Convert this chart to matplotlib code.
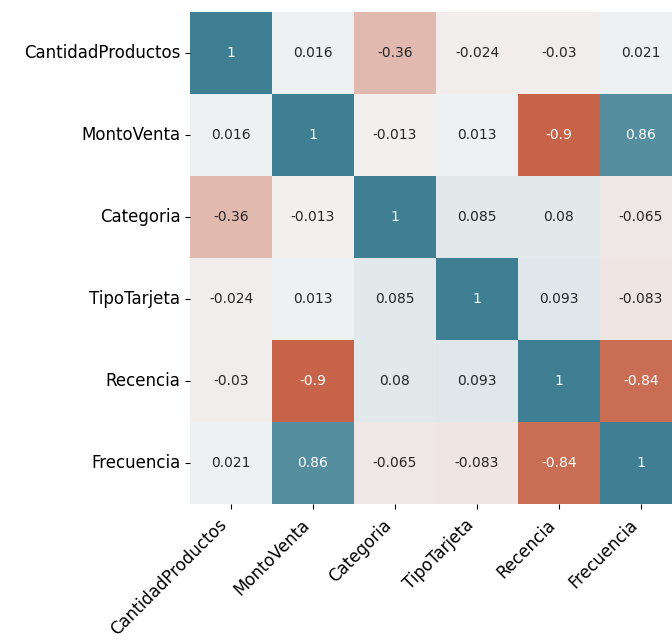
import numpy as np
import pandas as pd
import seaborn as sns
import matplotlib
matplotlib.use("Agg")
import matplotlib.pyplot as plt

# Variables del dataset de ventas
variables = ["CantidadProductos", "MontoVenta", "Categoria",
             "TipoTarjeta", "Recencia", "Frecuencia"]

# Matriz de correlación (fila por fila)
corr_cantidad = [1, 0.016, -0.36, -0.024, -0.03, 0.021]
corr_monto = [0.016, 1, -0.013, 0.013, -0.9, 0.86]
corr_categoria = [-0.36, -0.013, 1, 0.085, 0.08, -0.065]
corr_tarjeta = [-0.024, 0.013, 0.085, 1, 0.093, -0.083]
corr_recencia = [-0.03, -0.9, 0.08, 0.093, 1, -0.84]
corr_frecuencia = [0.021, 0.86, -0.065, -0.083, -0.84, 1]

corr = pd.DataFrame(
    [corr_cantidad, corr_monto, corr_categoria,
     corr_tarjeta, corr_recencia, corr_frecuencia],
    index=variables, columns=variables,
)

fig = plt.figure(figsize=(6.72, 6.4), dpi=100)
# El mapa ocupa 492x492 px, la última columna queda recortada a la derecha
ax = fig.add_axes([190 / 672, 136 / 640, 492 / 672, 492 / 640])

sns.heatmap(
    corr,
    vmin=-1, vmax=1, center=0,
    cmap=sns.diverging_palette(20, 220, n=200),
    annot=True,
    annot_kws={"size": 10},
    cbar=False,
    ax=ax,
)

ax.set_xticklabels(ax.get_xticklabels(), rotation=45,
                   horizontalalignment="right", fontsize=12)
ax.set_yticklabels(ax.get_yticklabels(), rotation=0, fontsize=12)
ax.tick_params(axis="x", pad=5)

fig.savefig("out.png", dpi=100)
